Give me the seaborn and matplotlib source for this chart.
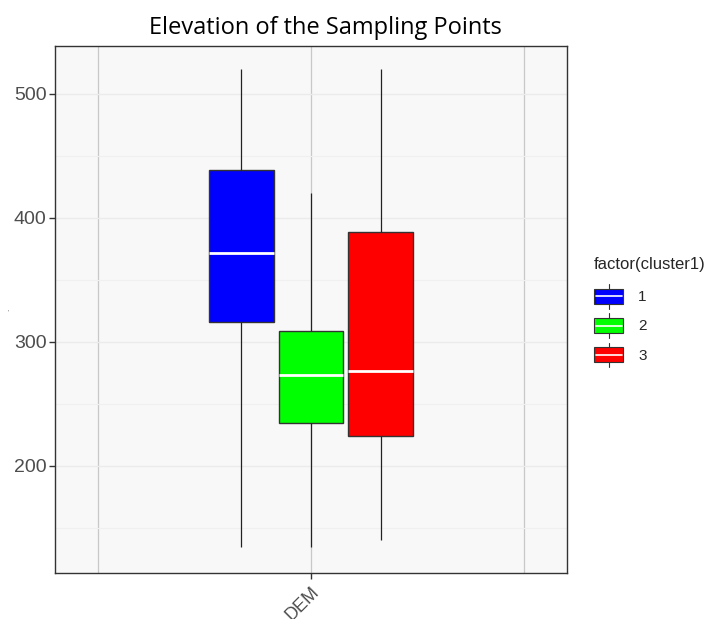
import numpy as np
import pandas as pd
import matplotlib
matplotlib.use("Agg")
import matplotlib.pyplot as plt
import seaborn as sns
from matplotlib.patches import Rectangle, Patch
from matplotlib.lines import Line2D
from matplotlib.legend_handler import HandlerBase

# ---- data (five-number summaries) ----
clusters = ["1", "2", "3"]
variable = "DEM"
mins = [135, 135, 140]
q1s = [316, 235, 224]
medians = [372, 273, 277]
q3s = [439, 309, 389]
maxs = [520, 420, 520]
colors = ["#0000FF", "#00FF00", "#FF0000"]

rows = []
for c, a, b, m, d, e in zip(clusters, mins, q1s, medians, q3s, maxs):
    for v in (a, b, m, d, e):
        rows.append({"variable": variable, "value": v, "cluster1": c})
df = pd.DataFrame(rows)

sns.set_theme(style="white")
plt.rcParams["font.family"] = ["Liberation Sans", "DejaVu Sans"]

fig = plt.figure(figsize=(7.17, 6.19), dpi=100)
ax = fig.add_axes([55 / 717, 1 - 573 / 619, (567 - 55) / 717, (573 - 46) / 619])
ax.set_facecolor("#F8F8F8")

sns.boxplot(data=df, x="variable", y="value", hue="cluster1", hue_order=clusters,
            palette=colors, whis=np.inf, width=0.49, gap=0.07, showcaps=False,
            linecolor="#333333", linewidth=1.0, saturation=1,
            medianprops={"color": "white", "linewidth": 2},
            whiskerprops={"color": "#222222", "linewidth": 0.9},
            ax=ax, legend=False, zorder=3)

ax.set_xlim(-0.6, 0.6)
ax.set_ylim(113.7, 538.7)
ax.set_yticks([200, 300, 400, 500])
ax.set_yticks([150, 250, 350, 450], minor=True)
ax.set_xticks([0])
ax.set_xticklabels(["DEM"])
ax.set_xticks([-0.5, 0.5], minor=True)

ax.grid(True, which="major", axis="y", color="#EBEBEB", linewidth=1.0, zorder=0)
ax.grid(True, which="minor", axis="y", color="#F0F0F0", linewidth=0.8, zorder=0)
ax.grid(True, which="both", axis="x", color="#C8C8C8", linewidth=0.9, zorder=0)
ax.set_axisbelow(True)

ax.tick_params(axis="y", which="major", length=4, width=1, color="#333333",
               labelsize=14, labelcolor="#4D4D4D", pad=2, left=True)
ax.tick_params(axis="x", which="major", length=4, width=1, color="#333333",
               labelsize=13, labelcolor="#4D4D4D", bottom=True)
ax.tick_params(which="minor", length=0)
for lab in ax.get_xticklabels():
    lab.set_rotation(45)
    lab.set_ha("right")
    lab.set_va("top")
    lab.set_rotation_mode("anchor")

for s in ax.spines.values():
    s.set_color("#333333")
    s.set_linewidth(1.0)

ax.set_xlabel("")
ax.set_ylabel(".", fontsize=6, color="#4D4D4D", labelpad=2)
ax.yaxis.set_label_coords(-44 / 512, 0.5)

fig.text(325 / 717, 1 - 28 / 619, "Elevation of the Sampling Points",
         ha="center", va="center", fontsize=17, family=["Open Sans", "DejaVu Sans"],
         color="black")


class BoxHandler(HandlerBase):
    def create_artists(self, legend, orig_handle, xdescent, ydescent, width, height,
                       fontsize, trans):
        x0, y0 = -xdescent, -ydescent
        bw = width * 0.95
        bh = height * 0.6
        bx = x0 + (width - bw) / 2
        by = y0 + (height - bh) / 2
        cx = x0 + width / 2
        art = []
        art.append(Line2D([cx, cx], [y0, by], color="#333333", lw=0.8, transform=trans))
        art.append(Line2D([cx, cx], [by + bh, y0 + height], color="#333333", lw=0.8, transform=trans))
        art.append(Rectangle((bx, by), bw, bh, facecolor=orig_handle.get_facecolor(),
                             edgecolor="#333333", lw=0.8, transform=trans))
        art.append(Line2D([bx + 1, bx + bw - 1], [by + bh / 2, by + bh / 2], color="white",
                          lw=1.2, transform=trans))
        return art


handles = [Patch(facecolor=c) for c in colors]
leg = fig.legend(handles, clusters, handler_map={Patch: BoxHandler()},
                 title="factor(cluster1)", loc="upper left",
                 bbox_to_anchor=(583 / 717, 1 - 246 / 619), frameon=False,
                 fontsize=11, title_fontsize=12, handlelength=2.0, handleheight=2.1,
                 labelspacing=0.3, handletextpad=0.9, alignment="left",
                 borderaxespad=0.3)
# a little more room between legend title and keys (as in the reference)
leg._legend_box.sep = 9

fig.savefig("out.png", dpi=100)
